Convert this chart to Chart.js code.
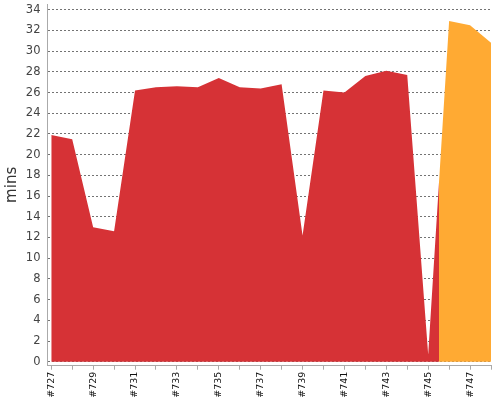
<!DOCTYPE html>
<html lang="en">
<head>
    <meta charset="UTF-8" />
    <title>Build Duration Trend</title>
    <script src="https://cdn.jsdelivr.net/npm/chart.js"></script>
    <style>
        html, body { margin: 0; padding: 0; background: #fff; }
        .wrap { position: relative; width: 500px; height: 400px; }
    </style>
</head>
<body>
    <div class="wrap"><canvas id="trendChart"></canvas></div>

    <script>
        // build numbers, durations (minutes) and result of each build
        const builds = [727, 728, 729, 730, 731, 732, 733, 734, 735, 736, 737,
                        738, 739, 740, 741, 742, 743, 744, 745, 746, 747, 748];
        const durations = [21.9, 21.5, 13.0, 12.6, 26.2, 26.5, 26.6, 26.5, 27.4, 26.5, 26.4,
                           26.8, 12.2, 26.2, 26.0, 27.6, 28.1, 27.7, 0.7, 32.9, 32.5, 30.8];
        const results = ['FAILURE', 'FAILURE', 'FAILURE', 'FAILURE', 'FAILURE', 'FAILURE',
                         'FAILURE', 'FAILURE', 'FAILURE', 'FAILURE', 'FAILURE', 'FAILURE',
                         'FAILURE', 'FAILURE', 'FAILURE', 'FAILURE', 'FAILURE', 'FAILURE',
                         'FAILURE', 'UNSTABLE', 'UNSTABLE', 'UNSTABLE'];
        const buildLabels = builds.map(b => '#' + b);
        const yTicks = [0, 2, 4, 6, 8, 10, 12, 14, 16, 18, 20, 22, 24, 26, 28, 30, 32, 34];

        const resultColors = { FAILURE: 'rgb(214, 50, 54)', UNSTABLE: 'rgb(255, 170, 51)' };

        Chart.defaults.font.family = "'DejaVu Sans', sans-serif";

        // colour the area by build result, switching half way between two builds
        function areaFill(context) {
            const chart = context.chart;
            const area = chart.chartArea;
            const xScale = chart.scales.x;
            if (!area || !xScale) return resultColors[results[0]];
            const g = chart.ctx.createLinearGradient(area.left, 0, area.right, 0);
            const width = area.right - area.left;
            let prev = resultColors[results[0]];
            g.addColorStop(0, prev);
            for (let i = 1; i < builds.length; i++) {
                const col = resultColors[results[i]];
                if (col !== prev) {
                    const mid = (xScale.getPixelForValue((builds[i - 1] + builds[i]) / 2) - area.left) / width;
                    const f = Math.min(1, Math.max(0, mid));
                    g.addColorStop(f, prev);
                    g.addColorStop(f, col);
                    prev = col;
                }
            }
            g.addColorStop(1, prev);
            return g;
        }

        const ctx = document.getElementById('trendChart').getContext('2d');
        const trendChart = new Chart(ctx, {
            type: 'line',
            data: {
                datasets: [{
                    label: 'Duration',
                    data: builds.map((b, i) => ({ x: b, y: durations[i] })),
                    backgroundColor: areaFill,
                    borderWidth: 0,
                    borderColor: 'rgba(0,0,0,0)',
                    pointRadius: 0,
                    fill: 'origin',
                    tension: 0
                }]
            },
            options: {
                responsive: true,
                maintainAspectRatio: false,
                animation: false,
                layout: { padding: { top: 4, right: 9, bottom: 0, left: 0 } },
                plugins: {
                    legend: { display: false },
                    tooltip: { enabled: false }
                },
                scales: {
                    x: {
                        type: 'linear',
                        min: builds[0] - 0.18,
                        max: builds[builds.length - 1],
                        afterBuildTicks: scale => { scale.ticks = builds.map(v => ({ value: v })); },
                        afterFit: scale => {
                            scale.height = 34.3;
                            scale.paddingLeft = 0;
                            scale.paddingRight = 0;
                        },
                        ticks: {
                            autoSkip: false,
                            minRotation: 90,
                            maxRotation: 90,
                            padding: 2,
                            color: '#111',
                            font: { size: 9.5 },
                            callback: (value, index) => index % 2 === 0 ? buildLabels[index] : ''
                        },
                        grid: {
                            drawOnChartArea: false,
                            drawTicks: true,
                            tickLength: 4,
                            color: '#aaa'
                        },
                        border: { color: '#aaa', width: 1 }
                    },
                    y: {
                        min: -0.38,
                        max: 34.55,
                        z: 1,
                        afterBuildTicks: scale => { scale.ticks = yTicks.map(v => ({ value: v })); },
                        afterFit: scale => {
                            scale.width = 47.5;
                            scale.paddingTop = 0;
                            scale.paddingBottom = 0;
                        },
                        ticks: {
                            padding: 7,
                            color: '#444',
                            font: { size: 11.5 }
                        },
                        grid: {
                            drawTicks: false,
                            color: 'rgba(0, 0, 0, 0.55)',
                            lineWidth: 1
                        },
                        border: { color: '#aaa', width: 1, dash: [2, 2] },
                        title: {
                            display: true,
                            text: 'mins',
                            color: '#333',
                            font: { size: 15 },
                            padding: { top: 3, bottom: 0 }
                        }
                    }
                }
            }
        });
    </script>
</body>
</html>
